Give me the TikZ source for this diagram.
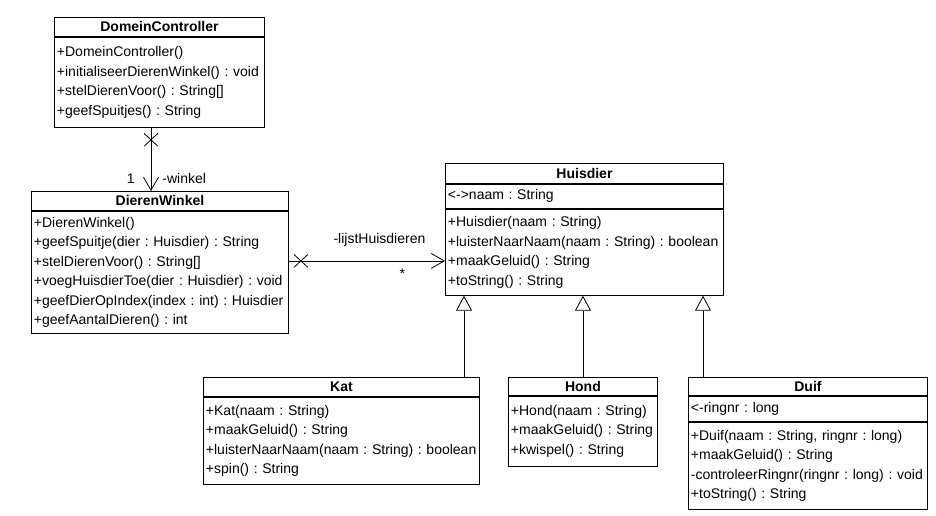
\documentclass[tikz,border=0pt]{standalone}
\usepackage{fontspec}
\setmainfont{Liberation Sans}
\usetikzlibrary{arrows.meta,shapes.misc}

\begin{document}
\begin{tikzpicture}[x=1pt,y=-1pt,
  every node/.style={font=\fontsize{14}{19.5}\selectfont\frenchspacing, inner sep=0pt},
  umlhead/.style={draw, anchor=north west, line width=0.9pt, font=\fontsize{14}{19.5}\selectfont\bfseries},
  umlpart/.style={draw, anchor=north west, line width=0.9pt, align=left, inner xsep=2.5pt,
    execute at begin node={\hyphenpenalty=10000\exhyphenpenalty=10000}},
  crossmark/.style={draw, cross out, line width=0.8pt, minimum width=13pt, minimum height=12pt},
  assoc/.style={line width=0.8pt, -{Straight Barb[length=13pt,width=15pt,line width=0.8pt]}},
  inherit/.style={line width=0.8pt, -{Triangle[open,length=15pt,width=16pt,fill=white,line width=0.8pt]}}]
  \fill[white] (0,0) rectangle (936,515);
  \node[umlhead, minimum width=210pt, minimum height=19pt] (dc) at (54,17) {DomeinController};
  \node[umlpart, text width=205pt, minimum height=90pt] (dcm) at (dc.south west) {+DomeinController()\\+initialiseerDierenWinkel() : void\\+stelDierenVoor() : String[]\\+geefSpuitjes() : String};
  \node[umlhead, minimum width=257pt, minimum height=19pt] (dw) at (31,191) {DierenWinkel};
  \node[umlpart, text width=252pt, minimum height=122pt] (dwm) at (dw.south west) {+DierenWinkel()\\+geefSpuitje(dier : Huisdier) : String\\+stelDierenVoor() : String[]\\+voegHuisdierToe(dier : Huisdier) : void\\+geefDierOpIndex(index : int) : Huisdier\\+geefAantalDieren() : int};
  \node[umlhead, minimum width=278pt, minimum height=20pt] (hd) at (445,163) {Huisdier};
  \node[umlpart, text width=273pt, minimum height=24pt] (hda) at (hd.south west) {<->naam : String};
  \node[umlpart, text width=273pt, minimum height=86pt] (hdm) at (hda.south west) {+Huisdier(naam : String)\\+luisterNaarNaam(naam : String) : boolean\\+maakGeluid() : String\\+toString() : String};
  \node[umlhead, minimum width=276pt, minimum height=19pt] (kat) at (203,377) {Kat};
  \node[umlpart, text width=271pt, minimum height=87pt] (katm) at (kat.south west) {+Kat(naam : String)\\+maakGeluid() : String\\+luisterNaarNaam(naam : String) : boolean\\+spin() : String};
  \node[umlhead, minimum width=149pt, minimum height=18pt] (hond) at (508,377) {Hond};
  \node[umlpart, text width=144pt, minimum height=70pt] (hondm) at (hond.south west) {+Hond(naam : String)\\+maakGeluid() : String\\+kwispel() : String};
  \node[umlhead, minimum width=239pt, minimum height=18pt] (duif) at (688,377) {Duif};
  \node[umlpart, text width=234pt, minimum height=25pt] (duifa) at (duif.south west) {<-ringnr : long};
  \node[umlpart, text width=234pt, minimum height=87pt] (duifm) at (duifa.south west) {+Duif(naam : String, ringnr : long)\\+maakGeluid() : String\\-controleerRingnr(ringnr : long) : void\\+toString() : String};
  \draw[assoc] ([xshift=97pt]dcm.south west) -- node[pos=0, yshift=-12pt, crossmark] {} node[pos=0.8, left=16pt] {1} node[pos=0.8, right=11pt] {-winkel} ([xshift=120pt]dw.north west);
  \coordinate (lijst) at ([yshift=-50pt]dwm.north east);
  \draw[assoc] (lijst) -- node[pos=0, xshift=12pt, crossmark] {} node[pos=0.58, above=14pt] {-lijstHuisdieren} node[pos=0.726, below=8pt] {*} (lijst -| hdm.west);
  \coordinate (katup) at ([xshift=261pt]kat.north west);
  \coordinate (duifup) at ([xshift=15pt]duif.north west);
  \draw[inherit] (katup) -- (katup |- hdm.south);
  \draw[inherit] (hond.north) -- (hond.north |- hdm.south);
  \draw[inherit] (duifup) -- (duifup |- hdm.south);
\end{tikzpicture}
\end{document}
